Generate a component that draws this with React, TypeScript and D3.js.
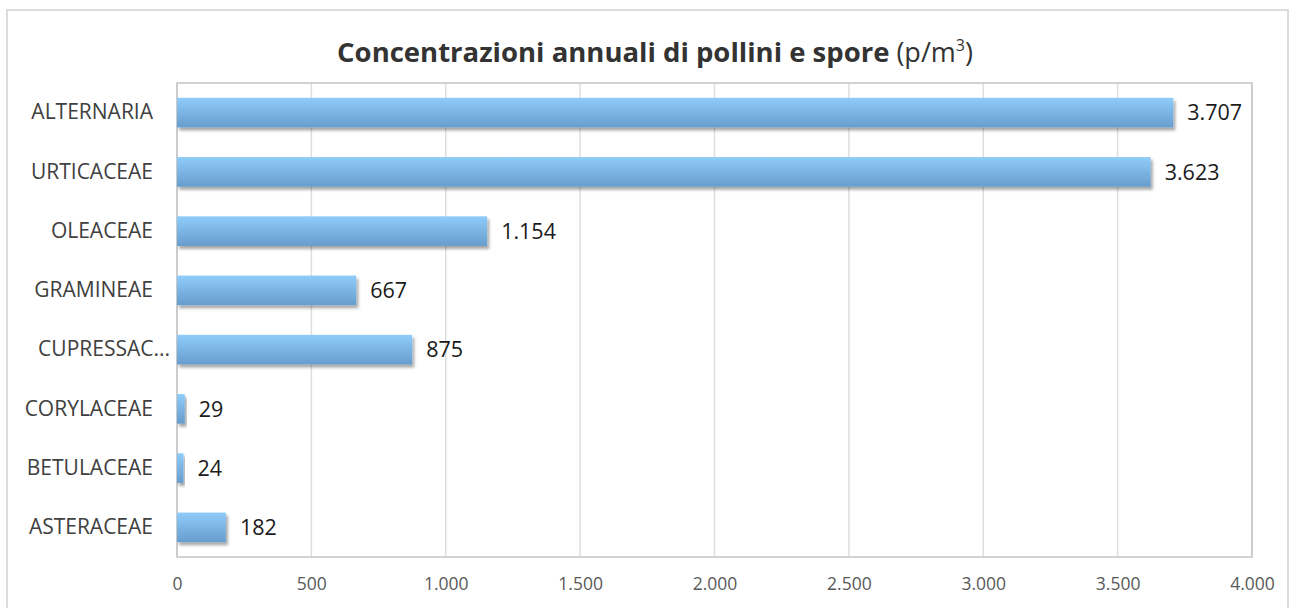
import { useEffect, useRef } from 'react';
import * as d3 from 'd3';

const categories = ['ALTERNARIA', 'URTICACEAE', 'OLEACEAE', 'GRAMINEAE', 'CUPRESSAC...', 'CORYLACEAE', 'BETULACEAE', 'ASTERACEAE'];
const values = [3707, 3623, 1154, 667, 875, 29, 24, 182];
const ticks = [0, 500, 1000, 1500, 2000, 2500, 3000, 3500, 4000];

const FONT = '"Open Sans", "Noto Sans", sans-serif';
const fmt = (v: number) => d3.format(',.0f')(v).replace(/,/g, '.');

export default function App() {
  const svgRef = useRef<SVGSVGElement>(null);

  useEffect(() => {
    if (!svgRef.current) return;
    const svg = d3.select(svgRef.current);
    svg.selectAll('*').remove();

    const W = 1290, H = 608;
    const margin = { top: 83, right: 38, bottom: 51, left: 177 };
    const width = W - margin.left - margin.right;
    const height = H - margin.top - margin.bottom;

    const defs = svg.append('defs');
    const grad = defs.append('linearGradient')
      .attr('id', 'barGrad').attr('x1', 0).attr('x2', 0).attr('y1', 0).attr('y2', 1);
    grad.append('stop').attr('offset', '0%').attr('stop-color', '#8fccfa');
    grad.append('stop').attr('offset', '100%').attr('stop-color', '#679dcd');
    const shadow = defs.append('filter').attr('id', 'shadow')
      .attr('x', '-10%').attr('y', '-20%').attr('width', '130%').attr('height', '160%');
    shadow.append('feDropShadow')
      .attr('dx', 2).attr('dy', 3).attr('stdDeviation', 1.8)
      .attr('flood-color', '#000').attr('flood-opacity', 0.35);

    // chart frame
    svg.append('rect')
      .attr('x', 7).attr('y', 10).attr('width', 1281).attr('height', 640)
      .attr('fill', '#fff').attr('stroke', '#dcdcdc').attr('stroke-width', 2);

    // title
    const title = svg.append('text')
      .attr('x', 655).attr('y', 62)
      .attr('text-anchor', 'middle')
      .attr('font-family', FONT).attr('fill', '#333');
    title.append('tspan').attr('font-weight', 700).attr('font-size', 27.5)
      .text('Concentrazioni annuali di pollini e spore');
    title.append('tspan').attr('font-size', 27).text(' (p/m');
    title.append('tspan').attr('font-size', 16).attr('dy', -11).text('3');
    title.append('tspan').attr('font-size', 27).attr('dy', 11).text(')');

    const g = svg.append('g').attr('transform', `translate(${margin.left},${margin.top})`);

    const x = d3.scaleLinear().domain([0, 4000]).range([0, width]);
    const y = d3.scaleBand().domain(categories).range([0, height]).paddingInner(0.5).paddingOuter(0.25);

    // vertical gridlines
    g.selectAll('.grid')
      .data(ticks)
      .enter().append('line')
      .attr('x1', d => x(d)).attr('x2', d => x(d))
      .attr('y1', 0).attr('y2', height)
      .attr('stroke', '#dedede').attr('stroke-width', 1.5);

    // plot area border
    g.append('rect')
      .attr('x', 0).attr('y', 0).attr('width', width).attr('height', height)
      .attr('fill', 'none').attr('stroke', '#c4c4c4').attr('stroke-width', 1.5);

    // x axis tick labels
    g.append('g')
      .attr('transform', `translate(0,${height})`)
      .call(d3.axisBottom(x).tickValues(ticks).tickSize(0).tickPadding(21).tickFormat(d => fmt(+d)))
      .call(a => a.select('.domain').remove())
      .call(a => a.selectAll('text')
        .attr('fill', '#595959').attr('font-size', '17.5px').attr('font-family', FONT));

    // category labels
    g.append('g')
      .call(d3.axisLeft(y).tickSize(0).tickPadding(24))
      .call(a => a.select('.domain').remove())
      .call(a => a.selectAll('text')
        .attr('fill', '#404040').attr('font-size', '21px').attr('font-family', FONT)
        .attr('dx', d => (String(d).endsWith('...') ? 17 : 0)));

    // bars
    g.selectAll('.bar')
      .data(categories)
      .enter().append('rect')
      .attr('x', 0)
      .attr('y', d => y(d)!)
      .attr('height', y.bandwidth())
      .attr('width', (_, i) => x(values[i]))
      .attr('fill', 'url(#barGrad)')
      .attr('filter', 'url(#shadow)');

    // value labels
    g.selectAll('.val')
      .data(categories)
      .enter().append('text')
      .attr('x', (_, i) => x(values[i]) + 14)
      .attr('y', d => y(d)! + y.bandwidth() / 2)
      .attr('dy', '0.36em')
      .attr('fill', '#1a1a1a').attr('font-size', '21.5px').attr('font-family', FONT)
      .text((_, i) => fmt(values[i]));
  }, []);

  return (
    <svg ref={svgRef} width={1290} height={608}
      style={{ position: 'absolute', left: 0, top: 0, display: 'block' }} />
  );
}
